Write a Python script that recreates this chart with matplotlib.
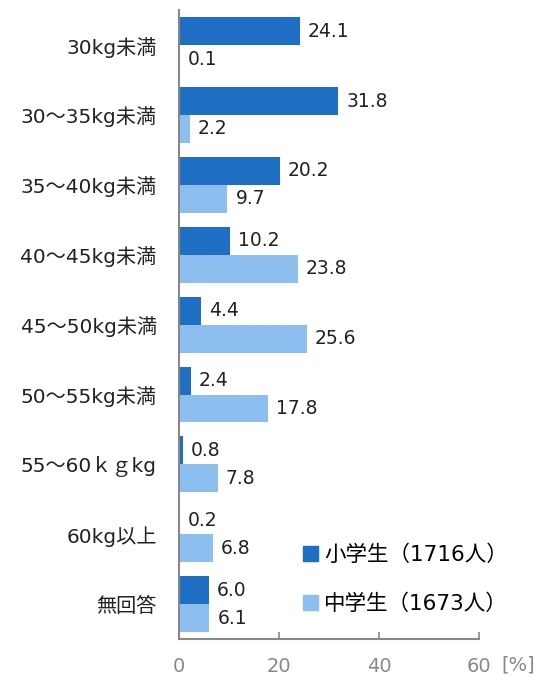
import numpy as np
from matplotlib import pyplot as plt
from matplotlib.patches import Patch
from matplotlib.transforms import blended_transform_factory

plt.rcParams["font.family"] = ["DejaVu Sans", "Noto Sans CJK JP"]

categories = ["30kg未満", "30～35kg未満", "35～40kg未満", "40～45kg未満",
              "45～50kg未満", "50～55kg未満", "55～60ｋｇkg", "60kg以上", "無回答"]
elementary = [24.1, 31.8, 20.2, 10.2, 4.4, 2.4, 0.8, 0.2, 6.0]
junior_high = [0.1, 2.2, 9.7, 23.8, 25.6, 17.8, 7.8, 6.8, 6.1]
series_names = ["小学生（1716人）", "中学生（1673人）"]
x_ticks = [0, 20, 40, 60]

dark = "#1f6fc5"
light = "#8cbff0"
gray = "#888888"

fig = plt.figure(figsize=(5.39, 6.77), dpi=100)
ax = fig.add_axes([0.332, 0.056, 0.557, 0.929])

y = np.arange(len(categories))
h = 0.4
ax.barh(y - h / 2, elementary, height=h, color=dark)
ax.barh(y + h / 2, junior_high, height=h, color=light)

for yi, v in zip(y, elementary):
    ax.text(v + 1.6, yi - h / 2, f"{v:.1f}", va="center", ha="left",
            fontsize=13.5, color="#222222")
for yi, v in zip(y, junior_high):
    ax.text(v + 1.6, yi + h / 2, f"{v:.1f}", va="center", ha="left",
            fontsize=13.5, color="#222222")

ax.set_ylim(len(categories) - 0.5, -0.5)
ax.set_xlim(0, 60)
ax.set_yticks(y)
ax.set_yticklabels(categories, fontsize=14.5, color="#222222")
ax.tick_params(axis="y", length=0, pad=16)
ax.set_xticks(x_ticks)
ax.set_xticklabels([str(t) for t in x_ticks], fontsize=14, color=gray)
ax.tick_params(axis="x", direction="in", length=5, color=gray, width=1.2, pad=13)

for side in ("top", "right"):
    ax.spines[side].set_visible(False)
for side in ("left", "bottom"):
    ax.spines[side].set_color(gray)
    ax.spines[side].set_linewidth(1.5)

trans = blended_transform_factory(ax.transData, ax.transAxes)
ax.text(67.8, -0.0415, "[%]", transform=trans, fontsize=14,
        color=gray, ha="center", va="center")

handles = [Patch(color=dark, label=series_names[0]),
           Patch(color=light, label=series_names[1])]
ax.legend(handles=handles, loc="lower right", bbox_to_anchor=(1.16, 0.009),
          frameon=False, fontsize=15.5, handlelength=0.7, handleheight=0.7,
          handletextpad=0.3, labelspacing=1.33)

fig.savefig("out.png", dpi=100)
